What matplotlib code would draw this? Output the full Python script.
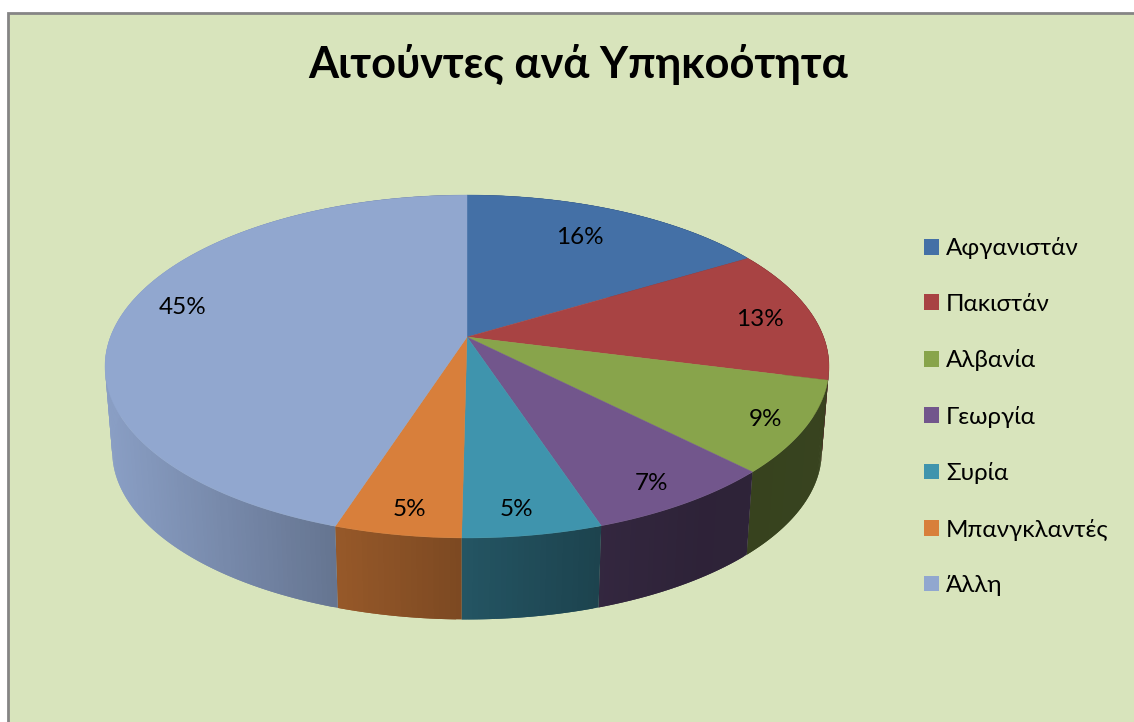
import matplotlib
matplotlib.use("Agg")
import matplotlib.pyplot as plt
from matplotlib.patches import Patch, Rectangle
import numpy as np

title = "Αιτούντες ανά Υπηκοότητα"
categories = ["Αφγανιστάν", "Πακιστάν", "Αλβανία", "Γεωργία", "Συρία", "Μπανγκλαντές", "Άλλη"]
values = [16.4, 12.6, 8.6, 7.3, 5.3, 4.8, 45.0]
colors = ["#4470a6", "#a84343", "#88a44b", "#72568c", "#3f94ad", "#d87f3b", "#91a7cf"]

# label positions in pixels, picked by hand
label_x = [580, 760, 765, 651, 516, 409, 183]
label_y = [237, 319, 419, 484, 510, 510, 307]

plt.rcParams["font.family"] = ["Lato", "Open Sans", "DejaVu Sans"]

cx, cy = 467, 337
sx, sy, persp = 356.6, 166.4, 0.172
depth = 85.5
shrink = 0.98


def project(deg, r=1.0):
    # clockwise from the top, with a bit of perspective like the excel 3d pie
    a = np.radians(deg)
    X = r * np.sin(a)
    Y = r * np.cos(a)
    w = 1 + persp * Y
    return sx * X / w, -sy * Y / w


def side_shade(x):
    return np.interp(x, [105, 340, 463, 600, 700, 830], [0.95, 0.69, 0.57, 0.45, 0.40, 0.41])


fig = plt.figure(figsize=(11.34, 7.22), dpi=100, facecolor="white")
ax = fig.add_axes([0, 0, 1, 1])
ax.set_xlim(0, 1134)
ax.set_ylim(722, 0)
ax.axis("off")

ax.add_patch(Rectangle((8, 13), 1200, 800, facecolor="#d8e4bc", edgecolor="#858585", linewidth=2, zorder=0))

edges = np.cumsum([0] + values) / sum(values) * 360

# sides first, the top faces cover whatever is at the back
for i in range(len(values)):
    base = np.array(matplotlib.colors.to_rgb(colors[i]))
    n = max(int((edges[i + 1] - edges[i]) / 0.75), 2)
    angles = np.linspace(edges[i], edges[i + 1], n + 1)
    for j in range(n):
        # each strip runs under the next one so no seams show
        a0 = angles[j]
        a1 = angles[min(j + 2, n)]
        x0, y0 = project(a0)
        x1, y1 = project(a1)
        xm, _ = project(angles[j + 1])
        xs = np.array([x0, x1, x1 * shrink, x0 * shrink]) + cx
        ys = np.array([y0, y1, y1 * shrink + depth, y0 * shrink + depth]) + cy
        c = base * side_shade(xm + cx)
        ax.fill(xs, ys, facecolor=c, edgecolor="none", zorder=1)

for i in range(len(values)):
    angles = np.linspace(edges[i], edges[i + 1], 200)
    x, y = project(angles)
    ax.fill(np.r_[cx, x + cx], np.r_[cy, y + cy], facecolor=colors[i], edgecolor=colors[i], linewidth=0.3, zorder=2)

for i in range(len(values)):
    ax.text(label_x[i], label_y[i], f"{values[i]:.0f}%", ha="center", va="center", fontsize=17.5, color="black", zorder=3)

ax.text(578, 64, title, ha="center", va="center", fontsize=31.2, fontweight="bold", color="black")

handles = [Patch(facecolor=c, edgecolor="none") for c in colors]
ax.legend(handles, categories, loc="upper left", bbox_to_anchor=(917, 230), bbox_transform=ax.transData,
          frameon=False, fontsize=17.35, handlelength=0.63, handleheight=0.63, handletextpad=0.27,
          labelspacing=1.43, borderpad=0, borderaxespad=0.3)

fig.savefig("out.png", dpi=100, facecolor="white")
